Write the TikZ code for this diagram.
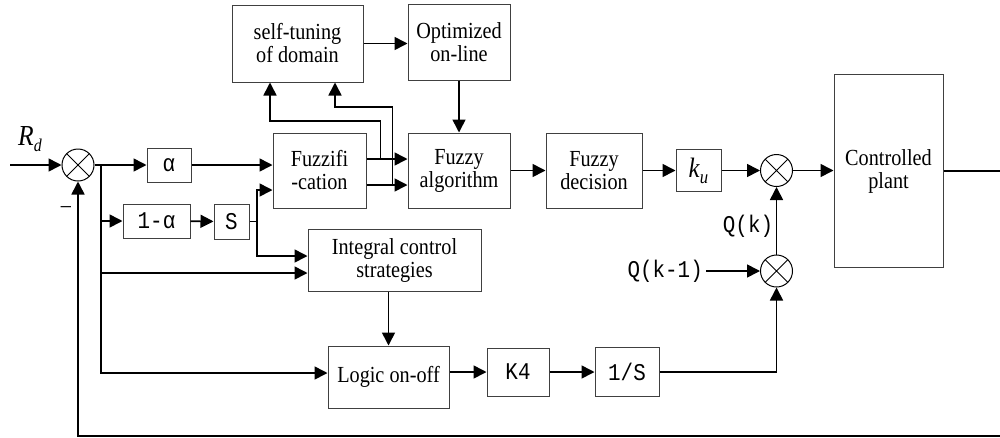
\documentclass[tikz,border=0pt]{standalone}
\usepackage{fontspec}
\setmainfont[FakeStretch=0.88]{Liberation Serif}
\newfontfamily\monofont[FakeStretch=0.87]{Liberation Mono}
\usetikzlibrary{arrows.meta}

\begin{document}
\begin{tikzpicture}
    [x=1pt, y=-1pt,
     box/.style={rectangle, draw=black!75, line width=1pt, inner sep=1pt, align=center, font=\fontsize{23}{23}\selectfont},
     mbox/.style={box, font=\monofont\fontsize{24}{24}\selectfont},
     sum/.style={circle, draw, line width=1pt, minimum size=32pt, inner sep=0pt,
         path picture={\draw [line width=1pt] (path picture bounding box.north west) -- (path picture bounding box.south east)
                                              (path picture bounding box.north east) -- (path picture bounding box.south west);}},
     ar/.style={-{Triangle[length=13pt, width=13pt]}, line width=1.6pt},
     ln/.style={line width=1.6pt},
     tn/.style={inner sep=0pt, font=\fontsize{23}{23}\selectfont},
     tm/.style={inner sep=3pt, font=\monofont\fontsize{24}{24}\selectfont}]

    \useasboundingbox (0,0) rectangle (1000,437);

    % fuzzy part
    \node [sum] (j1) at (78,165) {};
    \node [mbox, minimum width=44pt, minimum height=34pt] (al) at (169,165) {α};
    \node [mbox, minimum width=67pt, minimum height=34pt] (oma) at (156.5,221) {1-α};
    \node [mbox, minimum width=35pt, minimum height=35pt] (s) at (231.5,221.5) {S};
    \node [box, minimum width=131pt, minimum height=77pt] (st) at (297.5,43.5) {self-tuning\\of domain};
    \node [box, minimum width=102pt, minimum height=76pt] (opt) at (459,42) {Optimized\\on-line};
    \node [box, minimum width=93pt, minimum height=75pt] (fz) at (319.5,170.5) {Fuzzifi\\-cation};
    \node [box, minimum width=102pt, minimum height=75pt] (fa) at (459,170.5) {Fuzzy\\algorithm};
    \node [box, minimum width=96pt, minimum height=75pt] (fd) at (594,170.5) {Fuzzy\\decision};
    \node [box, minimum width=45pt, minimum height=42pt] (ku) at (698.5,170.5)
        {\fontsize{28}{28}\selectfont\textit{k}\raisebox{-6pt}{\fontsize{19}{19}\selectfont\textit{u}}};
    \node [sum] (j2) at (776.5,170.5) {};
    \node [box, minimum width=109pt, minimum height=193pt] (pl) at (888.5,171) {Controlled\\plant};

    % integral part
    \node [box, minimum width=173pt, minimum height=62pt] (ics) at (394.5,260) {Integral control\\strategies};
    \node [box, minimum width=121pt, minimum height=62pt] (lg) at (388.5,377) {Logic on-off};
    \node [mbox, minimum width=62pt, minimum height=48pt] (k4) at (518,372) {K4};
    \node [mbox, minimum width=64pt, minimum height=49pt] (is) at (627,372) {1/S};
    \node [sum] (j3) at (776.5,271) {};

    \node [tn] (rd) at (30,139) {\fontsize{29}{29}\selectfont\textit{R}\raisebox{-6pt}{\fontsize{18}{18}\selectfont\textit{d}}};
    \node [tn] (mi) at (66,210) {–};
    \node [tm, anchor=east] (qk1) at (706,271) {Q(k-1)};
    \node [tm] (qk) at (748,226) {Q(k)};

    \coordinate (in) at (10,165);
    \coordinate (br) at (101,165);
    \coordinate (sb) at (257,221.5);
    \coordinate (out) at (1000,171);
    \coordinate (fb) at (1000,436);

    \draw [ar] (in) -- (j1);
    \draw [ar] (j1) -- (al);
    \draw [ar] (br) |- (oma);
    \draw [ar] (br) |- ([yshift=-13pt] ics.west);
    \draw [ar] (br) |- ([yshift=4pt] lg.west);
    \draw [ar] (al) -- (al -| fz.west);
    \draw [ar] (oma) -- (s);
    \draw [ln] (s) -- (sb);
    \draw [ar] (sb) |- ([yshift=-19.5pt] fz.west);
    \draw [ar] (sb) |- ([yshift=4pt] ics.west);

    \draw [ar] ([yshift=11.5pt] fz.east) -- ([yshift=11.5pt] fa.west);
    \draw [ar] ([yshift=-14.5pt] fz.east) -- ([yshift=-14.5pt] fa.west);
    \draw [ar] ([xshift=14pt, yshift=11.5pt] fz.east) -- ++(0,-38) -| ([xshift=-27.5pt] st.south);
    \draw [ar] ([xshift=26pt, yshift=-14.5pt] fz.east) -- ++(0,-78) -| ([xshift=37.5pt] st.south);
    \draw [ar] (st.east) -- (st.east -| opt.west);
    \draw [ar] (opt) -- (fa);
    \draw [ar] (fa) -- (fd);
    \draw [ar] (fd) -- (ku);
    \draw [ar] (ku) -- (j2);
    \draw [ar] (j2) -- (j2 -| pl.west);
    \draw [ln] (pl.east) -- (out);

    \draw [ar] (lg |- ics.south) -- (lg.north);
    \draw [ar] (k4 -| lg.east) -- (k4);
    \draw [ar] (k4) -- (is);
    \draw [ar] (is) -| (j3);
    \draw [ar] (qk1) -- (j3);
    \draw [ar] (j3) -- (j2);

    \draw [ar] (fb) -| (j1);
\end{tikzpicture}
\end{document}
